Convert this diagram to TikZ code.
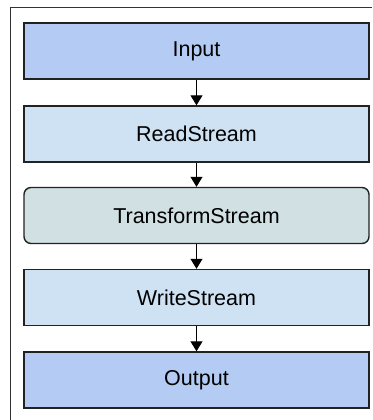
\documentclass[tikz,border=0pt]{standalone}
\usepackage{fontspec}
\setmainfont{Liberation Sans}
\usetikzlibrary{arrows.meta}
\definecolor{ioblue}{HTML}{B4CCF4}
\definecolor{streamblue}{HTML}{CFE2F3}
\definecolor{transgray}{HTML}{D0E0E3}
\definecolor{edgegray}{HTML}{222222}
\definecolor{framegray}{HTML}{333333}
\begin{document}
\begin{tikzpicture}[x=1pt,y=-1pt,
  box/.style={draw=edgegray,line width=1.4pt,minimum width=345pt,minimum height=56pt,
    inner sep=0pt,font=\fontsize{21.5}{24}\selectfont,text=black},
  iobox/.style={box,fill=ioblue},
  streambox/.style={box,fill=streamblue},
  transbox/.style={box,fill=transgray,rounded corners=7pt},
  flow/.style={draw=black,line width=1pt,-{Triangle[length=10pt,width=12pt]}}]
\useasboundingbox[fill=white] (0,0) rectangle (372,420);
\draw[framegray,line width=1pt] (10,420) -- (10,8) -- (372,8);
\node[iobox] (in) at (196.5,51) {Input};
\node[streambox] (rs) at (196.5,134) {ReadStream};
\node[transbox] (ts) at (196.5,215.5) {TransformStream};
\node[streambox] (ws) at (196.5,297.5) {WriteStream};
\node[iobox] (out) at (196.5,380) {Output};
\draw[flow] (in) -- (rs);
\draw[flow] (rs) -- (ts);
\draw[flow] (ts) -- (ws);
\draw[flow] (ws) -- (out);
\end{tikzpicture}
\end{document}
